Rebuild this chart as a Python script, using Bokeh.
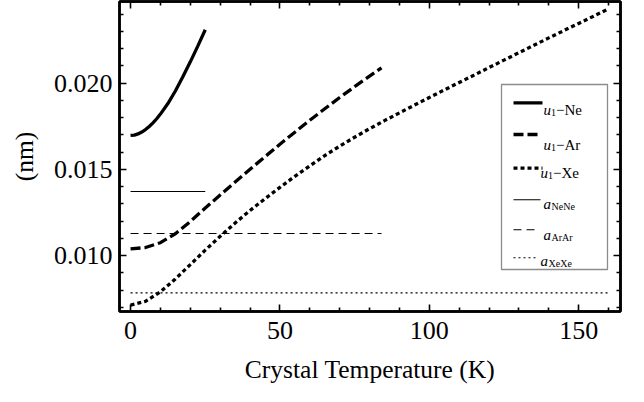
from bokeh.plotting import figure
from bokeh.models import (Range1d, FixedTicker, LinearAxis, NumeralTickFormatter,
                          BoxAnnotation, Arrow, Label, CustomLabelingPolicy)
from bokeh.embed import file_html
from bokeh.resources import INLINE

# ---------------- data ----------------
ne_T = [0, 1.25, 2.5, 3.75, 5, 6.25, 7.5, 8.75, 10, 12.5, 15, 17.5, 20, 22.5, 25]
ne_u = [0.01697, 0.01699, 0.01706, 0.01717, 0.01731, 0.01749, 0.01770,
        0.01794, 0.01821, 0.01882, 0.01955, 0.02037, 0.02124, 0.02215, 0.02310]

ar_T = [0, 5, 10, 15, 20, 25, 30, 35, 40, 45, 50, 55, 60, 65, 70, 75, 80, 84]
ar_u = [0.01039, 0.01047, 0.01075, 0.01127, 0.01198, 0.01276, 0.01352,
        0.01427, 0.01501, 0.01574, 0.01646, 0.01716, 0.01785, 0.01852,
        0.01917, 0.01980, 0.02041, 0.02089]

xe_T = [0, 5, 10, 15, 20, 25, 30, 35, 40, 45, 50, 55, 60, 65, 70, 75, 80,
        85, 90, 95, 100, 105, 110, 115, 120, 125, 130, 135, 140, 145, 150,
        155, 160]
xe_u = [0.00713, 0.00735, 0.00790, 0.00865, 0.00948, 0.01032, 0.01112,
        0.01189, 0.01262, 0.01330, 0.01396, 0.01460, 0.01521, 0.01580,
        0.01635, 0.01687, 0.01736, 0.01783, 0.01828, 0.01873, 0.01917,
        0.01961, 0.02004, 0.02047, 0.02091, 0.02134, 0.02177, 0.02220,
        0.02263, 0.02305, 0.02347, 0.02389, 0.02431]

a_NeNe_T = [0, 25]
a_NeNe = [0.01372, 0.01372]
a_ArAr_T = [0, 84]
a_ArAr = [0.01128, 0.01128]
a_XeXe_T = [0, 160]
a_XeXe = [0.00784, 0.00784]

x_major = [0, 50, 100, 150]
x_minor = [10, 20, 30, 40, 60, 70, 80, 90, 110, 120, 130, 140, 160]
y_major = [0.010, 0.015, 0.020]
y_minor = [0.007, 0.008, 0.009, 0.011, 0.012, 0.013, 0.014, 0.016, 0.017,
           0.018, 0.019, 0.021, 0.022, 0.023, 0.024]

FONT = "Liberation Serif"

p = figure(width=644, height=402,
           x_range=Range1d(-3.7, 164.0), y_range=Range1d(0.00676, 0.02474),
           output_backend="svg", toolbar_location=None,
           min_border_left=119, min_border_right=24,
           min_border_top=1, min_border_bottom=91)
p.grid.visible = False
p.outline_line_color = "black"
p.outline_line_width = 2.5
p.background_fill_color = "white"
p.border_fill_color = "white"


def style_axis(ax, show_labels=True):
    ax.axis_line_color = "black"
    ax.axis_line_width = 2.5
    ax.major_tick_in = 7
    ax.major_tick_out = 0
    ax.minor_tick_in = 4
    ax.minor_tick_out = 0
    ax.major_tick_line_width = 1.6
    ax.minor_tick_line_width = 1.6
    ax.major_label_text_font = FONT
    ax.major_label_text_color = "black"
    ax.axis_label_text_font = FONT
    ax.axis_label_text_font_style = "normal"
    ax.axis_label_text_font_size = "25.5px"
    ax.axis_label_text_color = "black"
    if show_labels:
        ax.major_label_text_font_size = "26px"
    else:
        ax.major_label_text_font_size = "0px"
        ax.major_label_standoff = 0
        ax.major_label_policy = CustomLabelingPolicy(code="return []")


xb = p.xaxis[0]
xb.ticker = FixedTicker(ticks=x_major, minor_ticks=x_minor)
style_axis(xb)
xb.axis_label = "Crystal Temperature (K)"
xb.major_label_standoff = 10
xb.axis_label_standoff = 13

yl = p.yaxis[0]
yl.ticker = FixedTicker(ticks=y_major, minor_ticks=y_minor)
yl.formatter = NumeralTickFormatter(format="0.000")
style_axis(yl)
yl.axis_label = "(nm)"
yl.major_label_standoff = 7
yl.axis_label_standoff = 12

xt = LinearAxis(ticker=FixedTicker(ticks=x_major, minor_ticks=x_minor))
style_axis(xt, show_labels=False)
p.add_layout(xt, "above")
yr = LinearAxis(ticker=FixedTicker(ticks=y_major, minor_ticks=y_minor))
style_axis(yr, show_labels=False)
p.add_layout(yr, "right")

# ---------------- curves ----------------
p.line(ne_T, ne_u, line_color="black", line_width=3.3)
p.line(ar_T, ar_u, line_color="black", line_width=3.3, line_dash="10 4")
p.line(xe_T, xe_u, line_color="black", line_width=3.3, line_dash="4 3")
p.line(a_NeNe_T, a_NeNe, line_color="black", line_width=1.1)
p.line(a_ArAr_T, a_ArAr, line_color="black", line_width=1.1, line_dash="8 5")
p.line(a_XeXe_T, a_XeXe, line_color="black", line_width=1.1, line_dash="2 3")

# ---------------- legend (screen units, frame bottom-left origin) ----------------
p.add_layout(BoxAnnotation(left=382, right=488, bottom=42, top=227,
                           left_units="screen", right_units="screen",
                           top_units="screen", bottom_units="screen",
                           fill_color="white", fill_alpha=1.0,
                           line_color="#8c8c8c", line_alpha=1.0, line_width=1.3))

legend_rows = [
    # main, sub, rest, sample_y, baseline_y, label_x, width, dash, sample_len
    ("u", "1", "\u2212Ne", 208.7, 201.7, 424, 3.3, "solid", 29),
    ("u", "1", "\u2212Ar", 177.0, 167.0, 424, 3.3, "10 4", 24),
    ("u", "1", "\u2212Xe", 143.3, 138.7, 421, 3.3, "4 3", 29),
    ("a", "NeNe", "", 111.7, 108.0, 424, 1.1, "solid", 27),
    ("a", "ArAr", "", 81.7, 77.0, 424, 1.1, "8 5", 22),
    ("a", "XeXe", "", 53.7, 51.0, 421, 1.1, "2 3", 25),
]


def add_label(x, y, text, size, italic=False):
    p.add_layout(Label(x=x, y=y, x_units="screen", y_units="screen", text=text,
                       text_font=FONT, text_font_size=f"{size}px",
                       text_font_style="italic" if italic else "normal",
                       text_baseline="alphabetic", text_align="left",
                       text_color="black"))


for main, sub, rest, sy, by, lx, lw, dash, slen in legend_rows:
    p.add_layout(Arrow(x_start=394, y_start=sy, x_end=394 + slen, y_end=sy,
                       start_units="screen", end_units="screen",
                       start=None, end=None, line_color="black",
                       line_width=lw, line_dash=dash))
    add_label(lx, by, main, 15, italic=True)
    if main == "u":
        add_label(lx + 7.5, by - 3, sub, 10)
        add_label(lx + 12.5, by, rest, 15)
    else:
        add_label(lx + 8, by - 3, sub, 10)

open("out.html", "w").write(file_html(p, INLINE))
